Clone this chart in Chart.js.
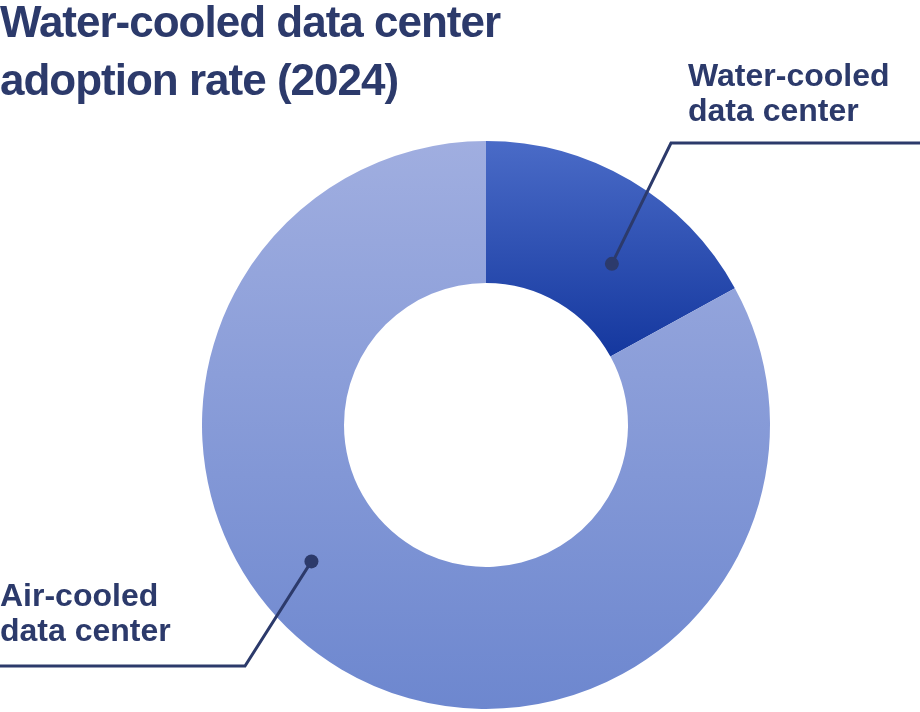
<!DOCTYPE html>
<html>
<head>
<meta charset="utf-8">
<script src="https://cdn.jsdelivr.net/npm/chart.js@4"></script>
<style>
  html, body { margin: 0; padding: 0; background: #fff; }
  #wrap { position: relative; width: 920px; height: 712px; }
</style>
</head>
<body>
<div id="wrap"><canvas id="chart" width="920" height="712"></canvas></div>
<script>
// adoption rate 2024 (%)
const categories = ['Water-cooled data center', 'Air-cooled data center'];
const shares = [17, 83];
const titleLines = ['Water-cooled data center', 'adoption rate (2024)'];
const labelLines = [['Water-cooled', 'data center'], ['Air-cooled', 'data center']];

const textColor = '#2c3a6b';
const fontFamily = '"Liberation Sans", Arial, Helvetica, sans-serif';

// vertical gradient per slice, based on the chart area (doughnut fills it)
function sliceColor(context) {
    const chart = context.chart;
    const area = chart.chartArea;
    if (!area || !isFinite(area.top) || !isFinite(area.bottom)) return '#8a9edb';
    const ctx = chart.ctx;
    const cy = (area.top + area.bottom) / 2;
    const r = Math.min(area.right - area.left, area.bottom - area.top) / 2;
    let g;
    if (context.dataIndex === 0) {
        g = ctx.createLinearGradient(0, cy - r, 0, cy - r * 0.25);
        g.addColorStop(0, '#4a6bc7');
        g.addColorStop(1, '#15389f');
    } else {
        g = ctx.createLinearGradient(0, cy - r, 0, cy + r);
        g.addColorStop(0, '#a0aee0');
        g.addColorStop(1, '#6d87cf');
    }
    return g;
}

// title + leader lines, drawn over the doughnut
const calloutPlugin = {
    id: 'callouts',
    afterDraw: (chart) => {
        const ctx = chart.ctx;
        const meta = chart.getDatasetMeta(0);
        ctx.save();
        ctx.fillStyle = textColor;
        ctx.textBaseline = 'alphabetic';
        ctx.font = 'bold 44px ' + fontFamily;
        ctx.letterSpacing = '-1px';
        ctx.fillText(titleLines[0], 0, 37);
        ctx.fillText(titleLines[1], 0, 95);
        ctx.letterSpacing = '0px';

        // leader settings: angle from top (deg), radius fraction, elbow, end, text pos
        const leaders = [
            { ang: 38, rf: 0.72, elbow: [671, 143], end: [920, 143], text: [688, 86] },
            { ang: 232, rf: 0.78, elbow: [245, 666], end: [0, 666], text: [0, 606] }
        ];
        leaders.forEach((ld, i) => {
            const arc = meta.data[i];
            const a = (ld.ang - 90) * Math.PI / 180;
            const px = arc.x + Math.cos(a) * arc.outerRadius * ld.rf;
            const py = arc.y + Math.sin(a) * arc.outerRadius * ld.rf;
            ctx.strokeStyle = textColor;
            ctx.lineWidth = 3;
            ctx.beginPath();
            ctx.moveTo(px, py);
            ctx.lineTo(ld.elbow[0], ld.elbow[1]);
            ctx.lineTo(ld.end[0], ld.end[1]);
            ctx.stroke();
            ctx.beginPath();
            ctx.arc(px, py, 7, 0, Math.PI * 2);
            ctx.fill();
            ctx.font = 'bold 32px ' + fontFamily;
            ctx.fillText(labelLines[i][0], ld.text[0], ld.text[1]);
            ctx.fillText(labelLines[i][1], ld.text[0], ld.text[1] + 35);
        });
        ctx.restore();
    }
};

const bgPlugin = {
    id: 'custom_canvas_background_color',
    beforeDraw: (chart) => {
        const ctx = chart.canvas.getContext('2d');
        ctx.save();
        ctx.globalCompositeOperation = 'destination-over';
        ctx.fillStyle = 'white';
        ctx.fillRect(0, 0, chart.width, chart.height);
        ctx.restore();
    }
};

const ctx = document.getElementById('chart').getContext('2d');
const myChart = new Chart(ctx, {
    type: 'doughnut',
    data: {
        labels: categories,
        datasets: [{
            data: shares,
            backgroundColor: sliceColor,
            borderWidth: 0,
        }]
    },
    options: {
        responsive: false,
        animation: false,
        cutout: '50%',
        layout: {
            padding: { top: 141, bottom: 3, left: 202, right: 150 }
        },
        plugins: {
            legend: { display: false },
            tooltip: { enabled: false },
            title: { display: false }
        }
    },
    plugins: [bgPlugin, calloutPlugin],
});
</script>
</body>
</html>
